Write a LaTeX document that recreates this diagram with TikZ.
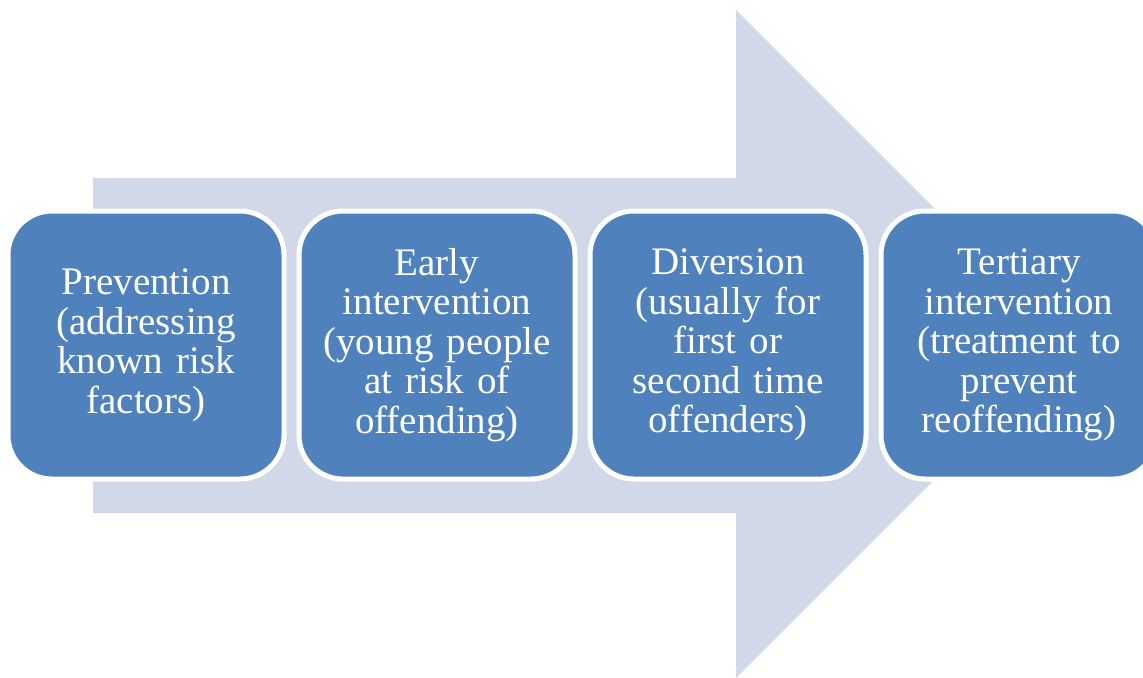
\documentclass[tikz,border=0pt]{standalone}
\usepackage{fontspec}
\setmainfont{Liberation Serif}
\usetikzlibrary{positioning}
\definecolor{arrowgray}{HTML}{D1D8E8}
\definecolor{boxblue}{HTML}{4F81BD}
\begin{document}
\begin{tikzpicture}[x=0.5pt,y=-0.5pt,
    stage/.style={rectangle, rounded corners=22pt, fill=boxblue, draw=white,
      line width=2.5pt, outer sep=0pt, inner sep=4pt,
      minimum width=138pt, minimum height=134pt, text width=124pt,
      align=center, text=white, font=\fontsize{19.5}{19.75}\selectfont},
    node distance=7.5pt]
  \useasboundingbox (0,0) rectangle (1143,677);
  \clip (0,0) rectangle (1143,677);
  % big background arrow
  \fill[arrowgray] (93,178) -- (736,178) -- (736,10) -- (1070,344)
    -- (736,678) -- (736,513) -- (93,513) -- cycle;
  \node[stage] (prevention) at (146,345)
    {Prevention\\(addressing\\known risk\\factors)};
  \node[stage, right=of prevention] (early)
    {Early\\intervention\\(young people\\at risk of\\offending)};
  \node[stage, right=of early] (diversion)
    {Diversion\\(usually for\\first or\\second time\\offenders)};
  \node[stage, right=of diversion] (tertiary)
    {Tertiary\\intervention\\(treatment to\\prevent\\reoffending)};
\end{tikzpicture}
\end{document}
